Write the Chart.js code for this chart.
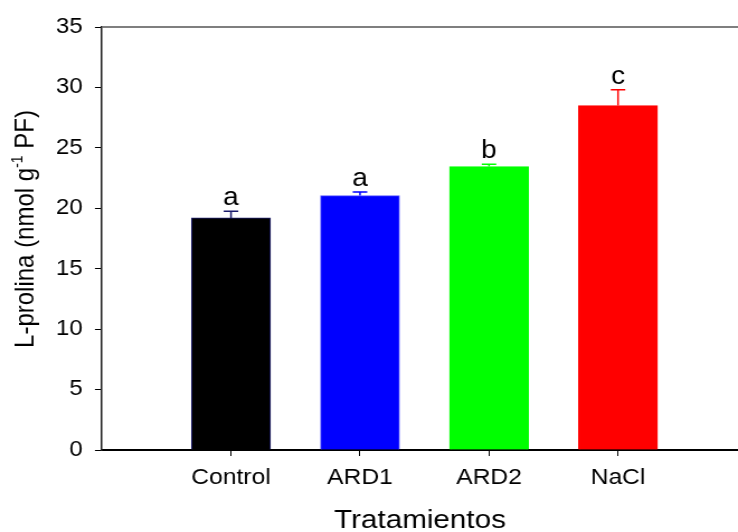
<!DOCTYPE html>
<html>
<head>
<meta charset="utf-8">
<script src="https://cdn.jsdelivr.net/npm/chart.js@4"></script>
<style>
html,body{margin:0;padding:0;background:#fff;overflow:hidden;}
#c{display:block;width:738px;height:532px;}
</style>
</head>
<body>
<canvas id="c" width="660" height="532" style="width:738px;height:532px;"></canvas>
<script>
const categories = ['Control', 'ARD1', 'ARD2', 'NaCl'];
const means = [19.2, 21.05, 23.45, 28.5];
const errors = [0.55, 0.3, 0.2, 1.3];
const letters = ['a', 'a', 'b', 'c'];
const barColors = ['#000000', '#0000ff', '#00ff00', '#ff0000'];
const borderColors = ['#1c1c6e', '#5a5aff', '#00ff00', '#ff0000'];
const errColors = ['#1c1c6e', '#0000ff', '#00ff00', '#ff0000'];
const yTicks = [0, 5, 10, 15, 20, 25, 30, 35];
const positions = [1, 2, 3, 4];
const FONT = "'Liberation Sans', Arial, sans-serif";

const extras = {
  id: 'extras',
  afterDatasetsDraw(chart) {
    const ctx = chart.ctx;
    const xs = chart.scales.x, ys = chart.scales.y;
    const a = chart.chartArea;
    ctx.save();
    // top frame line
    ctx.strokeStyle = '#555555';
    ctx.lineWidth = 1.5;
    ctx.beginPath();
    ctx.moveTo(a.left, a.top);
    ctx.lineTo(a.right, a.top);
    ctx.stroke();
    // error bars and letters
    means.forEach((m, i) => {
      const x = xs.getPixelForValue(positions[i]);
      const y0 = ys.getPixelForValue(m);
      const y1 = ys.getPixelForValue(m + errors[i]);
      ctx.strokeStyle = errColors[i];
      ctx.lineWidth = 1.5;
      ctx.beginPath();
      ctx.moveTo(x, y0);
      ctx.lineTo(x, y1);
      ctx.moveTo(x - 6.5, y1);
      ctx.lineTo(x + 6.5, y1);
      ctx.stroke();
      ctx.fillStyle = '#000';
      ctx.font = '25px ' + FONT;
      ctx.textAlign = 'center';
      ctx.textBaseline = 'alphabetic';
      ctx.fillText(letters[i], x, y1 - 6);
    });
    // y axis title with superscript
    const parts = [
      {t: 'L-prolina (nmol g', s: 24, dy: 0},
      {t: '-1', s: 14, dy: -10},
      {t: ' PF)', s: 24, dy: 0}
    ];
    let total = 0;
    parts.forEach(p => { ctx.font = p.s + 'px ' + FONT; p.w = ctx.measureText(p.t).width; total += p.w; });
    ctx.translate(29.5, 229);
    ctx.rotate(-Math.PI / 2);
    ctx.textAlign = 'left';
    ctx.textBaseline = 'alphabetic';
    let cx = -total / 2;
    parts.forEach(p => {
      ctx.font = p.s + 'px ' + FONT;
      ctx.fillText(p.t, cx, p.dy);
      cx += p.w;
    });
    ctx.restore();
  }
};

new Chart(document.getElementById('c'), {
  type: 'bar',
  data: {
    datasets: [{
      data: positions.map((p, i) => ({x: p, y: means[i]})),
      backgroundColor: barColors,
      borderColor: borderColors,
      borderWidth: 1,
      barThickness: 70.7
    }]
  },
  options: {
    responsive: false,
    animation: false,
    events: [],
    devicePixelRatio: 1,
    layout: {padding: {top: 27, right: 0, left: 0, bottom: 0}},
    plugins: {legend: {display: false}, tooltip: {enabled: false}},
    scales: {
      x: {
        type: 'linear',
        offset: false,
        min: 0,
        max: 4.93,
        afterFit(s) { s.height = 82; },
        afterBuildTicks(s) { s.ticks = positions.map(v => ({value: v})); },
        grid: {offset: false, drawOnChartArea: false, tickLength: 6, tickColor: '#000', tickWidth: 1},
        border: {color: '#000', width: 2},
        ticks: {
          color: '#000',
          font: {family: FONT, size: 22},
          padding: 9,
          maxRotation: 0,
          autoSkip: false,
          callback: (v) => categories[positions.indexOf(v)] ?? ''
        },
        title: {display: true, text: 'Tratamientos', color: '#000', font: {family: FONT, size: 26.5, lineHeight: 0.85}, padding: {top: 0, bottom: 0}}
      },
      y: {
        min: 0,
        max: 35,
        afterFit(s) { s.width = 91.2; },
        afterBuildTicks(s) { s.ticks = yTicks.map(v => ({value: v})); },
        grid: {drawOnChartArea: false, tickLength: 6.3, tickColor: '#000', tickWidth: 1},
        border: {color: '#222', width: 1.5},
        ticks: {color: '#000', font: {family: FONT, size: 21.5}, padding: 11}
      }
    }
  },
  plugins: [extras]
});
</script>
</body>
</html>
